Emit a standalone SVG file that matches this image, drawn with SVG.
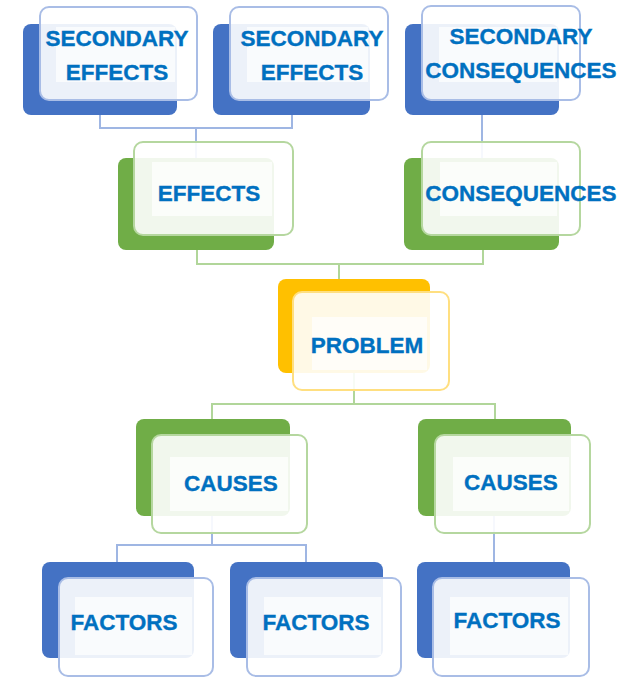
<svg xmlns="http://www.w3.org/2000/svg" width="641" height="678" viewBox="0 0 641 678">
<style>
.bb{fill:#4472c4}
.bg{fill:#70ad47}
.bo{fill:#ffc000}
.fb{fill:#ffffff;fill-opacity:0.9;stroke:#a9bde6;stroke-width:2}
.fg{fill:#ffffff;fill-opacity:0.9;stroke:#b5d79f;stroke-width:2}
.fo{fill:#ffffff;fill-opacity:0.9;stroke:#ffdf80;stroke-width:2}
.in{fill:#ffffff;fill-opacity:0.7}
.t{font-family:"Liberation Sans",Arial,sans-serif;font-weight:bold;font-size:22.5px;fill:#0070c0;stroke:#0070c0;stroke-width:0.35;text-anchor:middle}
.cb{fill:none;stroke:#9fb6e3;stroke-width:2}
.cg{fill:none;stroke:#b1d69a;stroke-width:2}
</style>
<rect width="641" height="678" fill="#ffffff"/>
<g id="connectors">
<polyline class="cb" points="100,115 100,128 292,128 292,115"/>
<line class="cb" x1="196" y1="128" x2="196" y2="160"/>
<line class="cb" x1="482" y1="115" x2="482" y2="160"/>
<polyline class="cg" points="197,250 197,264 483,264 483,250"/>
<line class="cg" x1="339" y1="264" x2="339" y2="279"/>
<line class="cg" x1="354" y1="373" x2="354" y2="404"/>
<polyline class="cg" points="212,419 212,404 495,404 495,419"/>
<line class="cb" x1="212" y1="516" x2="212" y2="545"/>
<polyline class="cb" points="117,562 117,545 306,545 306,562"/>
<line class="cb" x1="494" y1="516" x2="494" y2="562"/>
</g>
<g id="secondary-effects-1">
<rect class="bb" x="23" y="24" width="154" height="91" rx="8"/>
<rect class="fb" x="40" y="7" width="157" height="93" rx="9"/>
<rect class="in" x="56" y="27" width="119" height="55"/>
<text class="t" x="117" y="46">SECONDARY</text>
<text class="t" x="117" y="80">EFFECTS</text>
</g>
<g id="secondary-effects-2">
<rect class="bb" x="213" y="24" width="157" height="91" rx="8"/>
<rect class="fb" x="230" y="7" width="158" height="93" rx="9"/>
<rect class="in" x="247" y="27" width="121" height="55"/>
<text class="t" x="312" y="46">SECONDARY</text>
<text class="t" x="312" y="80">EFFECTS</text>
</g>
<g id="secondary-consequences">
<rect class="bb" x="405" y="24" width="154" height="91" rx="8"/>
<rect class="fb" x="422" y="6" width="158" height="94" rx="9"/>
<rect class="in" x="439" y="27" width="118" height="55"/>
<text class="t" x="521" y="44">SECONDARY</text>
<text class="t" x="521" y="78">CONSEQUENCES</text>
</g>
<g id="effects">
<rect class="bg" x="118" y="158" width="156" height="92" rx="8"/>
<rect class="fg" x="134" y="142" width="159" height="93" rx="9"/>
<rect class="in" x="152" y="162" width="120" height="54"/>
<text class="t" x="209" y="201">EFFECTS</text>
</g>
<g id="consequences">
<rect class="bg" x="404" y="158" width="155" height="92" rx="8"/>
<rect class="fg" x="422" y="142" width="158" height="93" rx="9"/>
<rect class="in" x="440" y="162" width="117" height="54"/>
<text class="t" x="521" y="201">CONSEQUENCES</text>
</g>
<g id="problem">
<rect class="bo" x="278" y="279" width="152" height="94" rx="8"/>
<rect class="fo" x="293" y="292" width="156" height="98" rx="9"/>
<rect class="in" x="312" y="317" width="115" height="53"/>
<text class="t" x="367" y="353">PROBLEM</text>
</g>
<g id="causes-1">
<rect class="bg" x="136" y="419" width="154" height="97" rx="8"/>
<rect class="fg" x="152" y="435" width="155" height="98" rx="9"/>
<rect class="in" x="170" y="457" width="118" height="54"/>
<text class="t" x="231" y="491">CAUSES</text>
</g>
<g id="causes-2">
<rect class="bg" x="418" y="419" width="153" height="97" rx="8"/>
<rect class="fg" x="435" y="435" width="155" height="98" rx="9"/>
<rect class="in" x="453" y="457" width="116" height="54"/>
<text class="t" x="511" y="490">CAUSES</text>
</g>
<g id="factors-1">
<rect class="bb" x="42" y="562" width="152" height="96" rx="8"/>
<rect class="fb" x="59" y="578" width="154" height="98" rx="9"/>
<rect class="in" x="75" y="597" width="117" height="58"/>
<text class="t" x="124" y="630">FACTORS</text>
</g>
<g id="factors-2">
<rect class="bb" x="230" y="562" width="153" height="96" rx="8"/>
<rect class="fb" x="247" y="578" width="154" height="98" rx="9"/>
<rect class="in" x="264" y="597" width="117" height="58"/>
<text class="t" x="316" y="630">FACTORS</text>
</g>
<g id="factors-3">
<rect class="bb" x="417" y="562" width="153" height="96" rx="8"/>
<rect class="fb" x="433" y="578" width="156" height="98" rx="9"/>
<rect class="in" x="450" y="597" width="118" height="58"/>
<text class="t" x="507" y="628">FACTORS</text>
</g>
</svg>
